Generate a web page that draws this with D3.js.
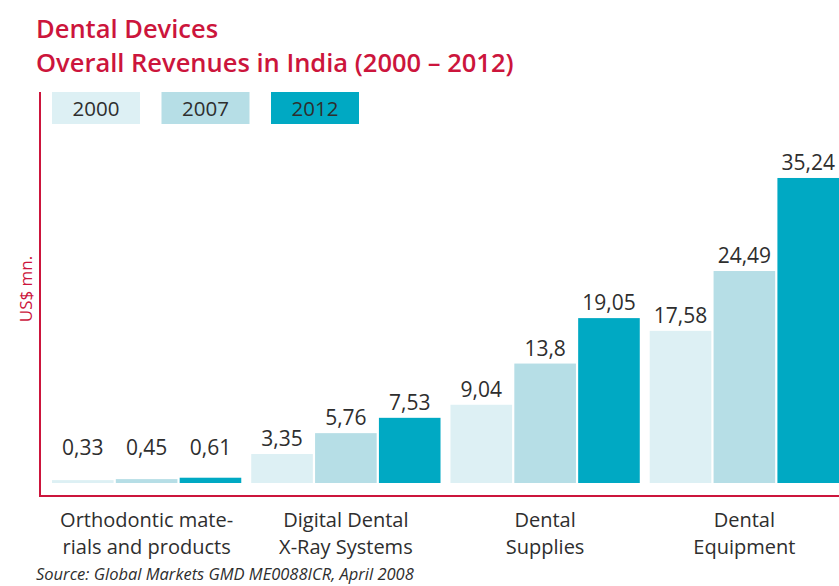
<!DOCTYPE html>
<html>
<head>
<meta charset="utf-8">
<script src="https://cdn.jsdelivr.net/npm/d3@7"></script>
<style>
  html, body { margin: 0; padding: 0; background: #fff; }
  svg { display: block; }
  text { font-family: "Open Sans", "Noto Sans", sans-serif; }
</style>
</head>
<body>
<svg id="chart" width="839" height="586"></svg>
<script>
// Dental device revenues in India, US$ mn.
const categories = [
  ["Orthodontic mate-", "rials and products"],
  ["Digital Dental", "X-Ray Systems"],
  ["Dental", "Supplies"],
  ["Dental", "Equipment"]
];
const years = ["2000", "2007", "2012"];
const values2000 = [0.33, 3.35, 9.04, 17.58];
const values2007 = [0.45, 5.76, 13.8, 24.49];
const values2012 = [0.61, 7.53, 19.05, 35.24];
const valueLabels2000 = ["0,33", "3,35", "9,04", "17,58"];
const valueLabels2007 = ["0,45", "5,76", "13,8", "24,49"];
const valueLabels2012 = ["0,61", "7,53", "19,05", "35,24"];

const seriesValues = [values2000, values2007, values2012];
const seriesLabels = [valueLabels2000, valueLabels2007, valueLabels2012];
const colors = ["#ddf0f4", "#b6dee6", "#00a9c3"];
const red = "#cc153c";
const textColor = "#2e2e2e";

const svg = d3.select("#chart");

// Title
svg.append("text").attr("x", 36).attr("y", 38)
  .attr("fill", red).attr("font-size", 25.5).attr("font-weight", 600)
  .text("Dental Devices");
svg.append("text").attr("x", 36).attr("y", 72)
  .attr("fill", red).attr("font-size", 25.5).attr("font-weight", 600)
  .text("Overall Revenues in India (2000 – 2012)");

// Scales
const groupIds = d3.range(categories.length);
const x0 = d3.scaleBand().domain(groupIds).range([47, 844])
  .paddingInner(0.05).paddingOuter(0.025);
const x1 = d3.scaleBand().domain(d3.range(years.length))
  .range([0, x0.bandwidth()]).paddingInner(0.035);
const y = d3.scaleLinear().domain([0, 36]).range([483, 171.4]);

// Bars and value labels
const groups = svg.append("g").selectAll("g").data(groupIds).join("g")
  .attr("transform", i => `translate(${x0(i)},0)`);

groups.selectAll("rect")
  .data(i => years.map((yr, s) => ({ s, v: seriesValues[s][i] })))
  .join("rect")
  .attr("x", d => x1(d.s))
  .attr("width", x1.bandwidth())
  .attr("y", d => y(d.v))
  .attr("height", d => y(0) - y(d.v))
  .attr("fill", d => colors[d.s]);

groups.selectAll("text.val")
  .data(i => years.map((yr, s) => ({ s, v: seriesValues[s][i], t: seriesLabels[s][i] })))
  .join("text").attr("class", "val")
  .attr("x", d => x1(d.s) + x1.bandwidth() / 2)
  .attr("y", d => Math.min(y(d.v) - 8, y(0) - 28))
  .attr("text-anchor", "middle")
  .attr("font-size", 21)
  .attr("fill", textColor)
  .text(d => d.t);

// Axis frame
svg.append("line").attr("x1", 40).attr("x2", 40).attr("y1", 92).attr("y2", 497)
  .attr("stroke", red).attr("stroke-width", 2);
svg.append("line").attr("x1", 39).attr("x2", 839).attr("y1", 496).attr("y2", 496)
  .attr("stroke", red).attr("stroke-width", 2);

// Y axis label
svg.append("text")
  .attr("transform", "translate(32,289) rotate(-90)")
  .attr("text-anchor", "middle")
  .attr("fill", red).attr("font-size", 17)
  .text("US$ mn.");

// Legend
const legend = svg.append("g").selectAll("g").data(years).join("g")
  .attr("transform", (d, i) => `translate(${52 + i * 109.5},92)`);
legend.append("rect").attr("width", 88).attr("height", 32)
  .attr("fill", (d, i) => colors[i]);
legend.append("text").attr("x", 44).attr("y", 24)
  .attr("text-anchor", "middle").attr("font-size", 20.5)
  .attr("fill", textColor).text(d => d);

// Category labels
const catLabels = svg.append("g").selectAll("text").data(groupIds).join("text")
  .attr("text-anchor", "middle")
  .attr("font-size", 20)
  .attr("fill", textColor);
catLabels.selectAll("tspan").data(i => categories[i].map(t => ({ t, i })))
  .join("tspan")
  .attr("x", d => x0(d.i) + x0.bandwidth() / 2)
  .attr("y", (d, k) => 526.5 + k * 27.5)
  .text(d => d.t);

// Source note
svg.append("text").attr("x", 36).attr("y", 580)
  .attr("font-size", 16.5).attr("font-style", "italic")
  .attr("fill", textColor)
  .text("Source: Global Markets GMD ME0088ICR, April 2008");
</script>
</body>
</html>
